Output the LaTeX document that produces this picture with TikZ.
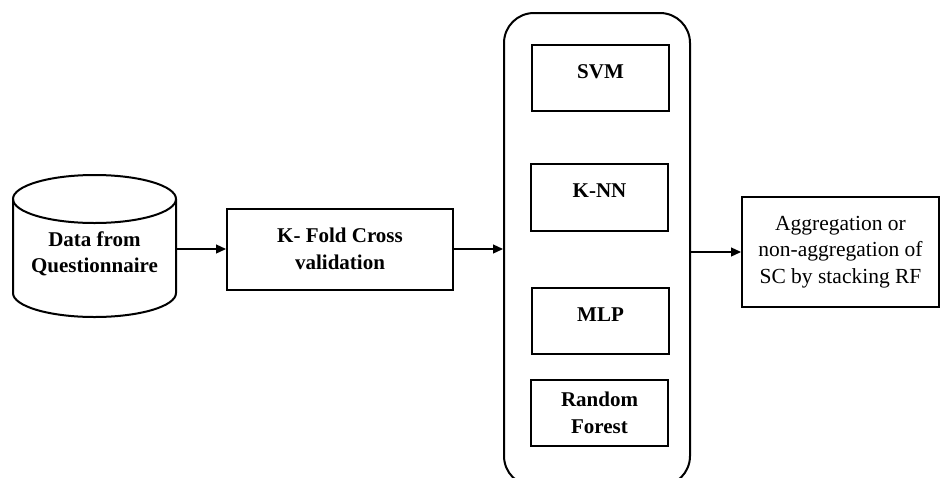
\documentclass[tikz,border=0pt]{standalone}
\usepackage{fontspec}
\setmainfont{Liberation Serif}
\usetikzlibrary{arrows.meta}
\begin{document}
\begin{tikzpicture}[x=1pt,y=-1pt,
  bf/.style={font=\bfseries\fontsize{21}{26.5}\selectfont},
  box/.style={draw,line width=2pt,inner sep=0pt,align=center},
  one/.style={text height=10pt,text depth=10pt},
  arr/.style={line width=1.2pt,-{Triangle[length=10pt,width=9pt]}}]
\useasboundingbox (0,0) rectangle (941,477);
% database cylinder
\draw[line width=2pt] (13,199) -- (13,293) arc[start angle=180,end angle=360,x radius=81.5,y radius=-24] -- (176,199);
\draw[line width=2pt] (94.5,199) ellipse[x radius=81.5,y radius=24];
\node[bf,align=center,minimum width=163pt,inner sep=0pt] (db) at (94.5,254) {Data from\\Questionnaire};
% k-fold
\node[box,bf,minimum width=226pt,minimum height=81pt] (kf) at (340,249) {K- Fold Cross\\validation};
% container
\node[draw,line width=2pt,rounded corners=30pt,minimum width=186pt,minimum height=473pt] (big) at (597,249.5) {};
\node[box,bf,one,minimum width=137pt,minimum height=66pt] (svm) at (600.5,78) {SVM};
\node[box,bf,one,minimum width=137pt,minimum height=67pt] (knn) at (599.5,197.5) {K-NN};
\node[box,bf,one,minimum width=137pt,minimum height=66pt] (mlp) at (600.5,321) {MLP};
\node[box,bf,minimum width=137pt,minimum height=66pt] (rf) at (599.5,413) {Random\\Forest};
% aggregation
\node[box,font=\fontsize{21.5}{26.5}\selectfont,minimum width=197pt,minimum height=110pt] (agg) at (840.5,252) {Aggregation or\\non-aggregation of\\SC by stacking RF};
% arrows
\draw[arr] (db.east |- kf.west) -- (kf.west);
\draw[arr] (kf.east) -- (kf.east -| big.west);
\draw[arr] (big.east |- agg.west) -- (agg.west);
\end{tikzpicture}
\end{document}
